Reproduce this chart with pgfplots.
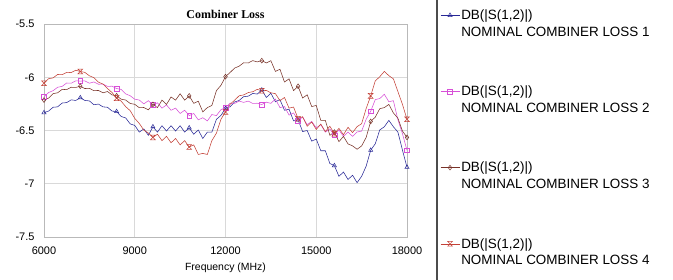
\documentclass[border=0pt]{standalone}
\usepackage{pgfplots}
\pgfplotsset{compat=1.18}
\usepackage{pgfplotstable}
\usepackage{fontspec}
\setmainfont{Liberation Sans}
\newfontfamily\seriffont{Liberation Serif}
\definecolor{cA}{RGB}{40,40,150}
\definecolor{cB}{RGB}{215,80,215}
\definecolor{cC}{RGB}{120,50,40}
\definecolor{cD}{RGB}{195,65,55}
\pgfdeclareplotmark{hourglass}{%
  \pgfpathmoveto{\pgfqpoint{-\pgfplotmarksize}{\pgfplotmarksize}}%
  \pgfpathlineto{\pgfqpoint{\pgfplotmarksize}{\pgfplotmarksize}}%
  \pgfpathlineto{\pgfqpoint{-\pgfplotmarksize}{-\pgfplotmarksize}}%
  \pgfpathlineto{\pgfqpoint{\pgfplotmarksize}{-\pgfplotmarksize}}%
  \pgfpathclose\pgfusepathqstroke}
\pgfplotstableread{
x s1 s2 s3 s4
6000 -6.332 -6.186 -6.214 -6.056
6150 -6.318 -6.144 -6.196 -6.014
6300 -6.282 -6.126 -6.154 -6.006
6450 -6.278 -6.094 -6.146 -5.974
6600 -6.242 -6.086 -6.114 -5.976
6750 -6.238 -6.054 -6.116 -5.954
6900 -6.212 -6.056 -6.094 -5.956
7050 -6.218 -6.034 -6.096 -5.934
7200 -6.192 -6.036 -6.084 -5.946
7350 -6.218 -6.034 -6.106 -5.954
7500 -6.222 -6.056 -6.104 -5.986
7650 -6.258 -6.044 -6.126 -6.004
7800 -6.252 -6.066 -6.124 -6.046
7950 -6.278 -6.064 -6.146 -6.064
8100 -6.282 -6.086 -6.134 -6.106
8250 -6.318 -6.084 -6.166 -6.144
8400 -6.322 -6.106 -6.174 -6.196
8550 -6.368 -6.114 -6.206 -6.224
8700 -6.382 -6.156 -6.214 -6.276
8850 -6.438 -6.174 -6.246 -6.314
9000 -6.452 -6.206 -6.254 -6.386
9150 -6.515 -6.214 -6.286 -6.434
9300 -6.485 -6.25 -6.284 -6.496
9450 -6.545 -6.22 -6.306 -6.524
9600 -6.465 -6.26 -6.255 -6.565
9750 -6.515 -6.24 -6.285 -6.535
9900 -6.455 -6.29 -6.215 -6.595
10050 -6.505 -6.26 -6.255 -6.555
10200 -6.455 -6.31 -6.185 -6.615
10350 -6.505 -6.29 -6.215 -6.575
10500 -6.455 -6.34 -6.155 -6.635
10650 -6.515 -6.31 -6.215 -6.595
10800 -6.475 -6.36 -6.175 -6.655
10950 -6.535 -6.34 -6.245 -6.635
11100 -6.495 -6.40 -6.225 -6.725
11250 -6.575 -6.38 -6.325 -6.715
11400 -6.515 -6.41 -6.285 -6.725
11550 -6.515 -6.35 -6.265 -6.595
11700 -6.395 -6.36 -6.125 -6.525
11850 -6.358 -6.304 -6.076 -6.394
12000 -6.292 -6.286 -5.994 -6.326
12150 -6.278 -6.244 -5.956 -6.254
12300 -6.232 -6.246 -5.914 -6.216
12450 -6.218 -6.224 -5.896 -6.174
12600 -6.182 -6.236 -5.864 -6.166
12750 -6.178 -6.224 -5.866 -6.144
12900 -6.152 -6.246 -5.844 -6.136
13050 -6.158 -6.244 -5.856 -6.114
13200 -6.12 -6.256 -5.844 -6.126
13350 -6.19 -6.234 -5.866 -6.124
13500 -6.15 -6.245 -5.845 -6.146
13650 -6.23 -6.205 -5.945 -6.154
13800 -6.21 -6.285 -5.925 -6.22
13950 -6.31 -6.275 -6.045 -6.19
14100 -6.30 -6.355 -6.015 -6.29
14250 -6.41 -6.335 -6.125 -6.28
14400 -6.40 -6.405 -6.085 -6.39
14550 -6.51 -6.375 -6.195 -6.37
14700 -6.50 -6.445 -6.165 -6.46
14850 -6.60 -6.415 -6.275 -6.42
15000 -6.58 -6.475 -6.265 -6.49
15150 -6.69 -6.445 -6.405 -6.44
15300 -6.69 -6.515 -6.405 -6.51
15450 -6.81 -6.485 -6.545 -6.46
15600 -6.83 -6.545 -6.515 -6.53
15750 -6.93 -6.495 -6.605 -6.48
15900 -6.89 -6.555 -6.555 -6.54
16050 -6.96 -6.515 -6.626 -6.47
16200 -6.92 -6.555 -6.644 -6.52
16350 -6.99 -6.514 -6.676 -6.464
16500 -6.93 -6.506 -6.645 -6.436
16650 -6.835 -6.394 -6.565 -6.294
16800 -6.685 -6.32 -6.415 -6.175
16950 -6.625 -6.21 -6.375 -6.035
17100 -6.495 -6.20 -6.295 -5.995
17250 -6.465 -6.16 -6.285 -5.945
17400 -6.405 -6.23 -6.255 -5.985
17550 -6.465 -6.22 -6.335 -6.015
17700 -6.515 -6.40 -6.385 -6.135
17850 -6.685 -6.53 -6.505 -6.255
18000 -6.845 -6.686 -6.565 -6.395
}\datatable
\begin{document}
\begin{tikzpicture}
\useasboundingbox (0,0) rectangle (673bp,280bp);
\begin{axis}[
  at={(44bp,43bp)}, anchor=south west,
  scale only axis, width=363bp, height=213bp,
  xmin=6000, xmax=18000, ymin=-7.5, ymax=-5.5,
  scaled x ticks=false, scaled y ticks=false,
  xtick={6000,9000,12000,15000,18000},
  xticklabels={6000,9000,12000,15000,18000},
  ytick={-7.5,-7,-6.5,-6,-5.5},
  yticklabels={-7.5,-7,-6.5,-6,-5.5},
  major tick length=0pt,
  grid=major, grid style={gray!30, line width=0.6pt},
  axis line style={gray!55, line width=0.8pt},
  tick label style={font=\fontsize{11}{13}\selectfont},
  yticklabel style={xshift=-6bp},
  xticklabel style={yshift=-6bp},
  xlabel={Frequency (MHz)},
  every axis x label/.style={at={(axis description cs:0.5,0)}, anchor=center, yshift=-31bp, font=\fontsize{10.5}{12}\selectfont},
  title={\seriffont\bfseries Combiner Loss},
  every axis title/.style={at={(axis description cs:0.5,1)}, anchor=center, yshift=10bp, font=\fontsize{12}{14}\selectfont},
  legend cell align=left,
  legend style={at={(1.091,1.075)}, anchor=north west, draw=none, fill=none,
    inner sep=0pt, row sep=45bp, font=\fontsize{13.5}{17}\selectfont,
    cells={align=left, anchor=west}, nodes={inner sep=1.5bp}},
  legend image code/.code={\draw[mark repeat=2,mark phase=2,#1] plot coordinates {(0bp,8.5bp) (9.5bp,8.5bp) (19bp,8.5bp)};},
  every axis plot/.append style={line width=0.55pt, mark size=2.4bp, mark options={solid, line width=0.5pt}},
]
\addplot[cA, mark=triangle, mark repeat=8] table[x=x, y=s1] {\datatable};
\addlegendentry{DB(|S(1,2)|)\\NOMINAL COMBINER LOSS 1}
\addplot[cB, mark=square, mark repeat=8] table[x=x, y=s2] {\datatable};
\addlegendentry{DB(|S(1,2)|)\\NOMINAL COMBINER LOSS 2}
\addplot[cC, mark=diamond, mark repeat=8] table[x=x, y=s3] {\datatable};
\addlegendentry{DB(|S(1,2)|)\\NOMINAL COMBINER LOSS 3}
\addplot[cD, mark=hourglass, mark repeat=8] table[x=x, y=s4] {\datatable};
\addlegendentry{DB(|S(1,2)|)\\NOMINAL COMBINER LOSS 4}
\end{axis}
\draw[line width=1.6pt, black!70] (437bp,0) -- (437bp,280bp);
\end{tikzpicture}
\end{document}
